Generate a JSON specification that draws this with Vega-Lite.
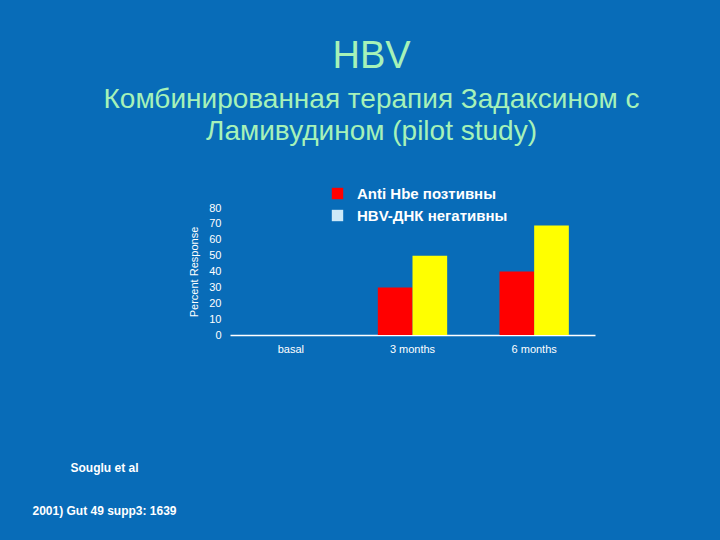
{
  "$schema": "https://vega.github.io/schema/vega-lite/v6.json",
  "autosize": {"type": "none"},
  "width": 365,
  "height": 127,
  "padding": {"left": 230, "top": 208, "right": 125, "bottom": 205},
  "background": "#086cb8",
  "title": {
    "text": "HBV",
    "subtitle": ["Комбинированная терапия Задаксином с", "Ламивудином (pilot study)"],
    "anchor": "middle",
    "frame": "group",
    "dx": -41,
    "offset": 40,
    "font": "Liberation Sans",
    "fontSize": 38,
    "fontWeight": "normal",
    "color": "#a6f2b8",
    "subtitleFont": "Liberation Sans",
    "subtitleFontSize": 28,
    "subtitleColor": "#a6f2b8",
    "subtitleLineHeight": 32,
    "subtitlePadding": 10
  },
  "data": {
    "values": [
      {"period": "basal", "series": "Anti Hbe позтивны", "value": 0},
      {"period": "basal", "series": "HBV-ДНК негативны", "value": 0},
      {"period": "3 months", "series": "Anti Hbe позтивны", "value": 30},
      {"period": "3 months", "series": "HBV-ДНК негативны", "value": 50},
      {"period": "6 months", "series": "Anti Hbe позтивны", "value": 40},
      {"period": "6 months", "series": "HBV-ДНК негативны", "value": 69}
    ]
  },
  "encoding": {
    "x": {
      "field": "period",
      "type": "nominal",
      "sort": ["basal", "3 months", "6 months"],
      "scale": {"paddingInner": 0.43, "paddingOuter": 0.215},
      "axis": {
        "title": ["Souglu et al", "2001) Gut 49 supp3: 1639"],
        "titleX": -126,
        "titleY": 127,
        "titleAlign": "center",
        "titleBaseline": "top",
        "titleAnchor": null,
        "titleFont": "Liberation Sans",
        "titleFontSize": 12,
        "titleFontWeight": "bold",
        "titleColor": "#ffffff",
        "titleLineHeight": 43,
        "labelAngle": 0,
        "labelFont": "Liberation Sans",
        "labelFontSize": 11,
        "labelColor": "#ffffff",
        "labelPadding": 8,
        "ticks": false,
        "domainColor": "#ffffff",
        "domainWidth": 1.5
      }
    },
    "y": {
      "field": "value",
      "type": "quantitative",
      "scale": {"domain": [0, 80], "nice": false},
      "axis": {
        "title": "Percent Response",
        "values": [0, 10, 20, 30, 40, 50, 60, 70, 80],
        "grid": false,
        "domain": false,
        "ticks": false,
        "labelPadding": 9,
        "labelFont": "Liberation Sans",
        "labelFontSize": 11,
        "labelColor": "#ffffff",
        "titleFont": "Liberation Sans",
        "titleFontSize": 11,
        "titleFontWeight": "normal",
        "titleColor": "#ffffff",
        "titlePadding": 9
      }
    },
    "xOffset": {"field": "series", "type": "nominal"}
  },
  "layer": [
    {
      "mark": {"type": "bar"},
      "encoding": {
        "fill": {
          "field": "series",
          "type": "nominal",
          "scale": {"range": ["#ff0000", "#ffff00"]},
          "legend": null
        }
      }
    },
    {
      "mark": {"type": "point", "shape": "square", "filled": true, "opacity": 0},
      "encoding": {
        "color": {
          "field": "series",
          "type": "nominal",
          "scale": {"domain": ["Anti Hbe позтивны", "HBV-ДНК негативны"], "range": ["#ff0000", "#cde9f8"]},
          "legend": {
            "title": null,
            "orient": "none",
            "legendX": 100,
            "legendY": -22,
            "symbolType": "square",
            "symbolSize": 130,
            "symbolOpacity": 1,
            "symbolStrokeWidth": 0,
            "labelFont": "Liberation Sans",
            "labelFontSize": 15,
            "labelFontWeight": "bold",
            "labelColor": "#ffffff",
            "labelOffset": 12,
            "rowPadding": 6
          }
        }
      }
    }
  ],
  "config": {"view": {"stroke": null}}
}
